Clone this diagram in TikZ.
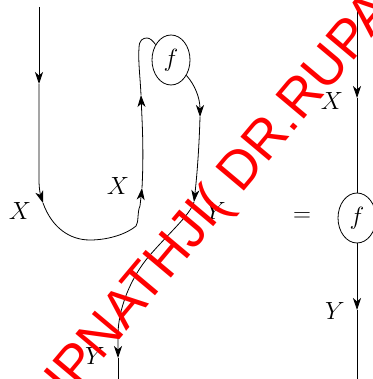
\documentclass[tikz,border=0pt]{standalone}
\usepackage{fontspec}
\newfontfamily\wmfont{Liberation Sans}
\usetikzlibrary{arrows.meta,shapes.geometric}
\begin{document}
\begin{tikzpicture}[x=1pt,y=-1pt, line width=0.8pt,
  tipped/.style={-{Stealth[length=12pt,width=8pt,inset=3.5pt]}},
  lbl/.style={font=\fontsize{23}{27}\selectfont, inner sep=0},
  morph/.style={draw, ellipse, minimum width=38pt, minimum height=50pt, inner sep=0, font=\fontsize{23}{27}\selectfont}]
\useasboundingbox (0,0) rectangle (372,379);
% left diagram
\coordinate (La) at (39,7);
\coordinate (Lb) at (39,84);
\coordinate (Lc) at (43,203);
\coordinate (Ld) at (142,188);
\coordinate (Le) at (141,95);
\node[morph] (f1) at (171,60) {$f$};
\coordinate (Rb) at (200,117);
\coordinate (Rc) at (194,202);
\coordinate (Rd) at (118,358);
\coordinate (Re) at (118,379);
\draw[tipped] (La) -- (Lb);
\draw[tipped] (Lb) -- (39,180) .. controls (39,190) and (41,197) .. (Lc);
\draw[tipped] (Lc) .. controls (52,228) and (70,240) .. (90,240) .. controls (110,240) and (128,233) .. (136,226) .. controls (139,222) and (137,212) .. (140,206) -- (Ld);
\draw[tipped] (Ld) .. controls (144,150) and (142,120) .. (Le);
\draw (Le) .. controls (140,75) and (138,60) .. (139,48) .. controls (139,40) and (143,38) .. (147,38) .. controls (150,38) and (153,41) .. (f1.135);
\draw[tipped] (f1.-45) .. controls (195,85) and (200,98) .. (Rb);
\draw[tipped] (Rb) .. controls (199,150) and (197,175) .. (Rc);
\draw[tipped] (Rc) .. controls (190,215) and (170,232) .. (150,255) .. controls (130,278) and (118,310) .. (118,335) -- (Rd);
\draw (Rd) -- (Re);
\node[lbl] (lx1) at (20,211) {$X$};
\node[lbl] (lx2) at (118,186) {$X$};
\node[lbl] (ly1) at (216,211) {$Y$};
\node[lbl] (ly2) at (95,356) {$Y$};
% equals
\node[lbl] (eq) at (302,217) {$=$};
% right diagram
\coordinate (Ta) at (357,7);
\coordinate (Tb) at (357,98);
\node[morph] (f2) at (357,218) {$f$};
\coordinate (Tc) at (357,310);
\coordinate (Td) at (357,379);
\draw[tipped] (Ta) -- (Tb);
\draw (Tb) -- (f2);
\draw[tipped] (f2) -- (Tc);
\draw (Tc) -- (Td);
\node[lbl] (rx) at (332,101) {$X$};
\node[lbl] (ry) at (335,311) {$Y$};
% watermark
\node[red, font=\wmfont\fontsize{54}{64}\selectfont, rotate=50, anchor=base west, inner sep=0] (wm) at (-32,520) {DR.RUPNATHJI( DR.RUPAK NATH )};
\end{tikzpicture}
\end{document}
